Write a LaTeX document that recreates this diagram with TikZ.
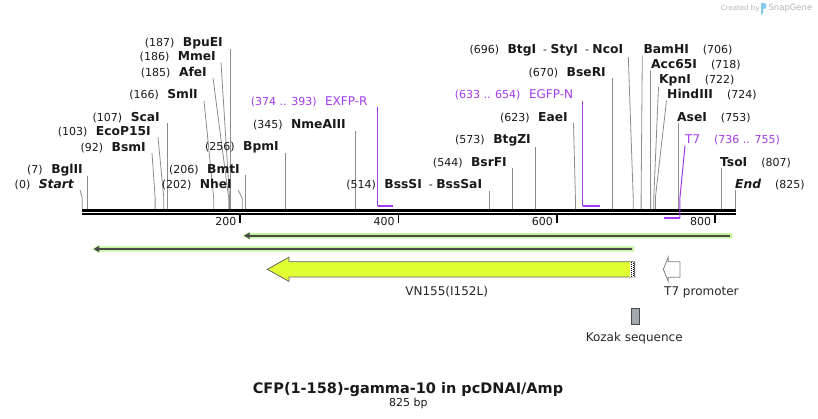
\documentclass[tikz,border=0pt]{standalone}
\usepackage{fontspec}
\setmainfont{DejaVu Sans}
\usetikzlibrary{arrows.meta,calc}
\definecolor{cutgray}{HTML}{8C8C8C}
\definecolor{primerviolet}{HTML}{A23BEA}
\definecolor{featyellow}{HTML}{E1FF32}
\definecolor{featgreen}{HTML}{C3F59C}
\definecolor{featdark}{HTML}{4A4A4A}
\definecolor{kozakgray}{HTML}{A3A8AF}
\definecolor{markgray}{HTML}{B4B4B4}
\definecolor{markblue}{HTML}{86CBEF}
\newcommand{\enzname}[1]{{\fontsize{12.3}{14}\selectfont\bfseries #1}}
\newcommand{\primername}[1]{{\fontsize{12}{14}\selectfont #1}}

\begin{document}
\begin{tikzpicture}[x=1pt,y=-1pt,
    lbl/.style={inner sep=0pt, font=\fontsize{11}{13}\selectfont, text=black!90},
    plbl/.style={inner sep=0pt, font=\fontsize{11}{13}\selectfont, text=primerviolet},
    featlbl/.style={inner sep=0pt, font=\fontsize{12}{14}\selectfont, text=black!85},
    cutline/.style={draw=cutgray, line width=0.8pt},
    primer/.style={draw=primerviolet, line width=2pt},
    primerline/.style={draw=primerviolet, line width=1pt}]
  \useasboundingbox (0,0) rectangle (818,419);

  % watermark
  \node[inner sep=0pt, font=\fontsize{7}{8}\selectfont, text=markgray, anchor=base west] (credit) at (720.7,10.5) {Created by};
  \fill[markblue] (761,14.5) -- (761,3) -- (764,3) .. controls (767.5,3) and (767.5,9) .. (764,9) -- (763.2,9) -- (763.2,14.5) -- cycle;
  \node[inner sep=0pt, font=\fontsize{8.5}{10}\selectfont, text=markgray, anchor=base west] (snapgene) at (768.3,11) {SnapGene};

  % cut sites, left labels
  \node[lbl, anchor=base east] (Start) at (74,188.3) {(0)\hspace{8.5pt}\enzname{\itshape Start}};
  \coordinate (cutStart) at (82.3,209);
  \draw[cutline] (cutStart) -- ++(0,-11) -- ([xshift=6pt]Start.south east);

  \node[lbl, anchor=base east] (BglII) at (83,173.3) {(7)\hspace{8.5pt}\enzname{BglII}};
  \coordinate (cutBglII) at ({82.3+0.7915*7},209);
  \draw[cutline] (cutBglII) -- (cutBglII |- BglII.south);

  \node[lbl, anchor=base east] (BsmI) at (146,151.3) {(92)\hspace{8.5pt}\enzname{BsmI}};
  \coordinate (cutBsmI) at ({82.3+0.7915*92},209);
  \draw[cutline] (cutBsmI) -- ++(0,-11) -- ([xshift=6pt]BsmI.south east);

  \node[lbl, anchor=base east] (EcoP15I) at (151,135.7) {(103)\hspace{8.5pt}\enzname{EcoP15I}};
  \coordinate (cutEcoP15I) at ({82.3+0.7915*103},209);
  \draw[cutline] (cutEcoP15I) -- ++(0,-11) -- ([xshift=7pt]EcoP15I.south east);

  \node[lbl, anchor=base east] (ScaI) at (160,121.3) {(107)\hspace{8.5pt}\enzname{ScaI}};
  \coordinate (cutScaI) at ({82.3+0.7915*107},209);
  \draw[cutline] (cutScaI) -- (cutScaI |- ScaI.south);

  \node[lbl, anchor=base east] (SmlI) at (198,99) {(166)\hspace{8.5pt}\enzname{SmlI}};
  \coordinate (cutSmlI) at ({82.3+0.7915*166},209);
  \draw[cutline] (cutSmlI) -- ++(0,-11) -- ([xshift=6pt]SmlI.south east);

  \node[lbl, anchor=base east] (AfeI) at (207,76.3) {(185)\hspace{8.5pt}\enzname{AfeI}};
  \coordinate (cutAfeI) at ({82.3+0.7915*185},209);
  \draw[cutline] (cutAfeI) -- ++(0,-11) -- ([xshift=6pt]AfeI.south east);

  \node[lbl, anchor=base east] (MmeI) at (216,60.7) {(186)\hspace{8.5pt}\enzname{MmeI}};
  \coordinate (cutMmeI) at ({82.3+0.7915*186},209);
  \draw[cutline] (cutMmeI) -- ++(0,-11) -- ([xshift=5pt]MmeI.south east);

  \node[lbl, anchor=base east] (BpuEI) at (223,46.3) {(187)\hspace{8.5pt}\enzname{BpuEI}};
  \coordinate (cutBpuEI) at ({82.3+0.7915*187},209);
  \draw[cutline] (cutBpuEI) -- (cutBpuEI |- BpuEI.south);

  \node[lbl, anchor=base east] (NheI) at (232,188.3) {(202)\hspace{8.5pt}\enzname{NheI}};
  \coordinate (cutNheI) at ({82.3+0.7915*202},209);
  \draw[cutline] (cutNheI) -- ++(0,-11) -- ([xshift=6pt]NheI.south east);

  \node[lbl, anchor=base east] (BmtI) at (240,173.3) {(206)\hspace{8.5pt}\enzname{BmtI}};
  \coordinate (cutBmtI) at ({82.3+0.7915*206},209);
  \draw[cutline] (cutBmtI) -- (cutBmtI |- BmtI.south);

  \node[lbl, anchor=base east] (BpmI) at (279,150.7) {(256)\hspace{8.5pt}\enzname{BpmI}};
  \coordinate (cutBpmI) at ({82.3+0.7915*256},209);
  \draw[cutline] (cutBpmI) -- (cutBpmI |- BpmI.south);

  \node[lbl, anchor=base east] (NmeAIII) at (346,129) {(345)\hspace{8.5pt}\enzname{NmeAIII}};
  \coordinate (cutNmeAIII) at ({82.3+0.7915*345},209);
  \draw[cutline] (cutNmeAIII) -- (cutNmeAIII |- NmeAIII.south);

  \node[lbl, anchor=base east] (BssSI) at (482.3,189) {(514)\hspace{8.5pt}\enzname{BssSI}\hspace{7pt}- \enzname{BssSaI}};
  \coordinate (cutBssSI) at ({82.3+0.7915*514},209);
  \draw[cutline] (cutBssSI) -- (cutBssSI |- BssSI.south);

  \node[lbl, anchor=base east] (BsrFI) at (507,166.3) {(544)\hspace{8.5pt}\enzname{BsrFI}};
  \coordinate (cutBsrFI) at ({82.3+0.7915*544},209);
  \draw[cutline] (cutBsrFI) -- (cutBsrFI |- BsrFI.south);

  \node[lbl, anchor=base east] (BtgZI) at (531,144) {(573)\hspace{8.5pt}\enzname{BtgZI}};
  \coordinate (cutBtgZI) at ({82.3+0.7915*573},209);
  \draw[cutline] (cutBtgZI) -- (cutBtgZI |- BtgZI.south);

  \node[lbl, anchor=base east] (EaeI) at (568,121.3) {(623)\hspace{8.5pt}\enzname{EaeI}};
  \coordinate (cutEaeI) at ({82.3+0.7915*623},209);
  \draw[cutline] (cutEaeI) -- ++(0,-11) -- ([xshift=5.5pt]EaeI.south east);

  \node[lbl, anchor=base east] (BseRI) at (606,76.3) {(670)\hspace{8.5pt}\enzname{BseRI}};
  \coordinate (cutBseRI) at ({82.3+0.7915*670},209);
  \draw[cutline] (cutBseRI) -- (cutBseRI |- BseRI.south);

  \node[lbl, anchor=base east] (BtgI) at (623.3,54) {(696)\hspace{8.5pt}\enzname{BtgI}\hspace{7pt}- \enzname{StyI}\hspace{7pt}- \enzname{NcoI}};
  \coordinate (cutBtgI) at ({82.3+0.7915*696},209);
  \draw[cutline] (cutBtgI) -- ++(0,-11) -- ([xshift=5pt]BtgI.south east);

  % cut sites, right labels
  \node[lbl, anchor=base west] (BamHI) at (643.3,54) {\enzname{BamHI}\hspace{14pt}(706)};
  \coordinate (cutBamHI) at ({82.3+0.7915*706},209);
  \draw[cutline] (cutBamHI) -- ++(0,-11) -- ([xshift=-1pt]BamHI.south west);

  \node[lbl, anchor=base west] (Acc65I) at (651,69) {\enzname{Acc65I}\hspace{14pt}(718)};
  \coordinate (cutAcc65I) at ({82.3+0.7915*718},209);
  \draw[cutline] (cutAcc65I) -- ++(0,-11) -- ([xshift=-0.5pt]Acc65I.south west);

  \node[lbl, anchor=base west] (KpnI) at (659,84) {\enzname{KpnI}\hspace{14pt}(722)};
  \coordinate (cutKpnI) at ({82.3+0.7915*722},209);
  \draw[cutline] (cutKpnI) -- ++(0,-11) -- ([xshift=-0.5pt]KpnI.south west);

  \node[lbl, anchor=base west] (HindIII) at (667,99) {\enzname{HindIII}\hspace{14pt}(724)};
  \coordinate (cutHindIII) at ({82.3+0.7915*724},209);
  \draw[cutline] (cutHindIII) -- ++(0,-11) -- ([xshift=-0.5pt]HindIII.south west);

  \node[lbl, anchor=base west] (AseI) at (677,121.3) {\enzname{AseI}\hspace{14pt}(753)};
  \coordinate (cutAseI) at ({82.3+0.7915*753},209);
  \draw[cutline] (cutAseI) -- (cutAseI |- AseI.south);

  \node[lbl, anchor=base west] (TsoI) at (720,166.3) {\enzname{TsoI}\hspace{14pt}(807)};
  \coordinate (cutTsoI) at ({82.3+0.7915*807},209);
  \draw[cutline] (cutTsoI) -- (cutTsoI |- TsoI.south);

  \node[lbl, anchor=base west] (End) at (735,188.3) {\enzname{\itshape End}\hspace{14pt}(825)};
  \coordinate (cutEnd) at ({82.3+0.7915*825},209);
  \draw[cutline] (cutEnd) -- (cutEnd |- End.south);

  % primers
  \node[plbl, anchor=base east] (EXFPR) at (367.7,105.7) {(374 .. 393)\hspace{8.5pt}\primername{EXFP-R}};
  \coordinate (exfpA) at ({82.3+0.7915*373},205.7);
  \coordinate (exfpB) at ({82.3+0.7915*393},205.7);
  \draw[primerline] (exfpA) -- (exfpA |- EXFPR.south);
  \draw[primer] (exfpA) -- (exfpB);

  \node[plbl, anchor=base east] (EGFPN) at (573.3,99) {(633 .. 654)\hspace{8.5pt}\primername{EGFP-N}};
  \coordinate (egfpA) at ({82.3+0.7915*632},205.7);
  \coordinate (egfpB) at ({82.3+0.7915*654},205.7);
  \draw[primerline] (egfpA) -- (egfpA |- EGFPN.south);
  \draw[primer] (egfpA) -- (egfpB);

  % sequence bar
  \coordinate (barStart) at (82,210.3);
  \coordinate (barEnd) at (736,210.3);
  \draw[line width=2.7pt] (barStart) -- (barEnd);
  \draw[line width=2.7pt] ([yshift=-3.7pt]barStart) -- ([yshift=-3.7pt]barEnd);

  \node[plbl, anchor=base west] (T7) at (685,144) {\primername{T7}\hspace{14pt}(736 .. 755)};
  \coordinate (tsevA) at ({82.3+0.7915*735},218.3);
  \coordinate (tsevB) at ({82.3+0.7915*755},218.3);
  \draw[primerline] (tsevB) -- ++(0,-20) -- (T7.south west);
  \draw[primer] (tsevA) -- (tsevB);

  % ticks
  \draw[line width=1.8pt] (240.1,215) -- (240.1,222.7);
  \draw[line width=1.8pt] (398.4,215) -- (398.4,222.7);
  \draw[line width=1.8pt] (556.7,215) -- (556.7,222.7);
  \draw[line width=1.8pt] (714.9,215) -- (714.9,222.7);
  \node[lbl, anchor=base east] (t200) at (236.5,226) {200};
  \node[lbl, anchor=base east] (t400) at (394.8,226) {400};
  \node[lbl, anchor=base east] (t600) at (553.1,226) {600};
  \node[lbl, anchor=base east] (t800) at (711.3,226) {800};

  % features
  \fill[featgreen] (732,233.1) -- (250,233.1) -- (250,231.6) -- (242.4,235.7) -- (250,239.8) -- (250,238.3) -- (732,238.3) -- cycle;
  \draw[featdark, line width=1.7pt, -{Triangle[length=5.5pt,width=6pt]}] (730,235.7) -- (244,235.7);
  \fill[featgreen] (634,246.4) -- (99.5,246.4) -- (99.5,244.9) -- (92,249) -- (99.5,253.1) -- (99.5,251.6) -- (634,251.6) -- cycle;
  \draw[featdark, line width=1.7pt, -{Triangle[length=5.5pt,width=6pt]}] (632.3,249) -- (93.6,249);

  \draw[draw=featdark!85, fill=featyellow, line width=0.8pt] (634.7,261.7) -- (289,261.7) -- (289,257.2) -- (267.3,269.3) -- (289,281.4) -- (289,277) -- (634.7,277) -- cycle;
  \fill[white] (630.2,262.1) rectangle (634.3,276.6);
  \draw[line width=1pt, dash pattern=on 1pt off 1pt] (631,262.1) -- (631,276.6);
  \draw[line width=1pt, dash pattern=on 1pt off 1pt] (633.1,263.1) -- (633.1,276.6);
  \draw[featdark!85, line width=0.8pt] (634.7,261.7) -- (634.7,277);
  \node[featlbl, anchor=base] (vn155) at (446.7,295) {VN155(I152L)};

  \draw[draw=gray, fill=white, line width=0.8pt] (680,261.7) -- (668.3,261.7) -- (668.3,257) -- (663.3,269.3) -- (668.3,281.5) -- (668.3,277.3) -- (680,277.3) -- cycle;
  \node[featlbl, anchor=base west] (t7prom) at (664,295.5) {T7 promoter};

  \draw[draw=featdark, fill=kozakgray, line width=0.8pt] (631,308) rectangle (639,324);
  \node[featlbl, anchor=base] (kozak) at (634.2,341) {Kozak sequence};

  % title
  \node[inner sep=0pt, font=\fontsize{14.5}{16}\selectfont\bfseries, text=black!90, anchor=base] (title) at (408,393.5) {CFP(1-158)-gamma-10 in pcDNAI/Amp};
  \node[lbl, anchor=base] (length) at (408.3,406) {825 bp};
\end{tikzpicture}
\end{document}
